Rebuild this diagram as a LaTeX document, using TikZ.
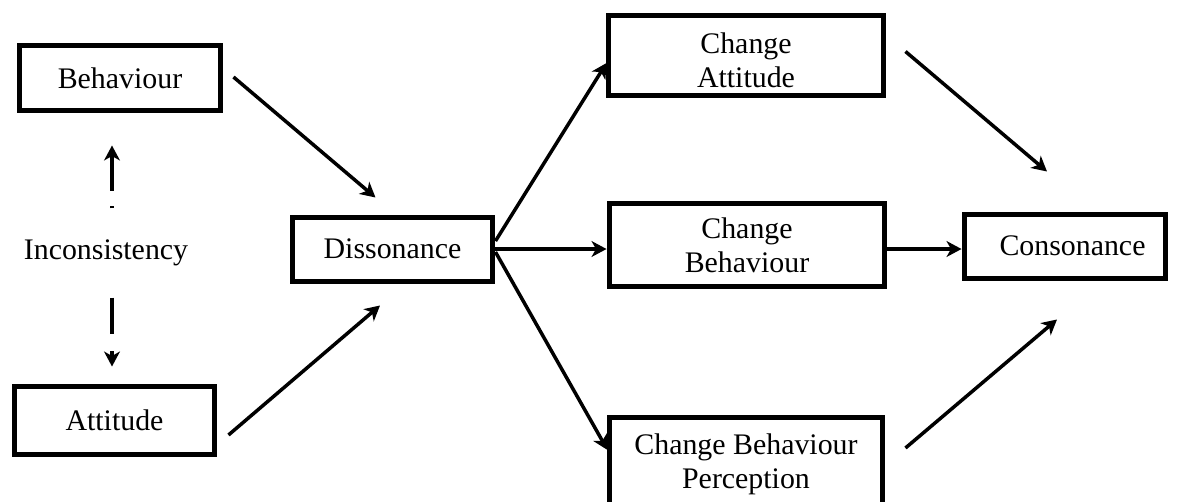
\documentclass[tikz,border=0pt]{standalone}
\usepackage{fontspec}
\setmainfont{Liberation Serif}
\usetikzlibrary{arrows.meta,calc}
\tikzset{
  box/.style={draw, line width=0.1cm, inner sep=0pt, align=center},
  arr/.style={-{Stealth[length=8.5pt,width=9pt,inset=2.5pt]}, line width=0.07cm},
  incup/.style={arr, dash pattern=on 1.7pt off 8.5pt on 40pt},
  incdown/.style={arr, dash pattern=on 21pt off 9.7pt on 20pt}
}
\begin{document}
\begin{tikzpicture}[x=0.02cm, y=-0.02cm]
                {\fontsize{17}{19.5}\selectfont
                \useasboundingbox (0,0) rectangle (1180,501);

                % Drawing box Behaviour
                \node [box, minimum width=4.04cm, minimum height=1.32cm] (beh) at (120,78) {Behaviour};%

                % Drawing box Attitude
                \node [box, minimum width=4.02cm, minimum height=1.36cm] (att) at (114.5,420) {Attitude};%

                % Marking text Inconsistency
                \node [inner sep=0pt] (inc) at (106,253) {Inconsistency};%

                % Drawing box Dissonance
                \node [box, minimum width=4.02cm, minimum height=1.28cm] (diss) at (392.5,249) {Dissonance};%

                % Drawing boxes of change
                \node [box, minimum width=5.52cm, minimum height=1.62cm] (chatt) at (746,55.5) {\raisebox{-4.6pt}[\height][\depth]{\begin{tabular}{@{}c@{}}Change\\Attitude\end{tabular}}};%
                \node [box, minimum width=5.52cm, minimum height=1.68cm] (chbeh) at (747,245) {Change\\Behaviour};%
                \node [box, minimum width=5.48cm, minimum height=1.80cm] (chper) at (746,462) {\raisebox{-1.5pt}[\height][\depth]{\begin{tabular}{@{}c@{}}Change Behaviour\\Perception\end{tabular}}};%

                % Drawing box Consonance
                \node [box, minimum width=4.04cm, minimum height=1.28cm] (cons) at (1065,246) {\hspace*{0.3cm}Consonance};%

                % Drawing dashed arrows of inconsistency
                \draw [incup] ($(beh.south)+(-8,95)$) -- ($(beh.south)+(-8,32)$);%
                \draw [incdown] ($(att.north)+(-2.5,-86)$) -- ($(att.north)+(-2.5,-17)$);%

                % Drawing arrows into Dissonance
                \draw [arr] ($(beh.east)+(10,-1)$) -- ($(diss.north)+(-17,-17)$);%
                \draw [arr] ($(att.east)+(11,15)$) -- ($(diss.south)+(-12.5,22)$);%

                % Drawing arrows out of Dissonance
                \draw [arr] ($(diss.east)+(0,-8)$) -- ($(chatt.west)+(1,7.5)$);%
                \draw [arr] (diss.east) -- (diss.east -| chbeh.west);%
                \draw [arr] ($(diss.east)+(0,3)$) -- ($(chper.west)+(1,-12)$);%

                % Drawing arrows into Consonance
                \draw [arr] ($(chatt.east)+(19,-4)$) -- ($(cons.north)+(-18,-40)$);%
                \draw [arr] (diss.east -| chbeh.east) -- (diss.east -| cons.west);%
                \draw [arr] ($(chper.east)+(20,-14)$) -- ($(cons.south)+(-8,39)$);%
                }
\end{tikzpicture}
\end{document}
